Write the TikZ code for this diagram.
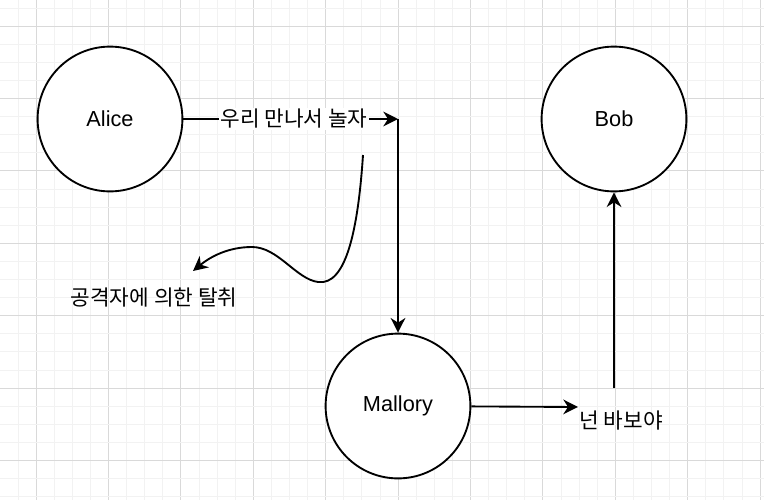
\documentclass[tikz,border=0pt]{standalone}
\usepackage{fontspec}
\setmainfont{Liberation Sans}
\newfontfamily\kor{Noto Sans CJK KR}
\usetikzlibrary{arrows.meta}

\begin{document}
\begin{tikzpicture}[x=0.75pt,y=-0.75pt,
	person/.style={draw,circle,line width=1.4pt,minimum size=108.6pt,inner sep=0pt,fill=white,font=\fontsize{16.3}{19}\selectfont},
	says/.style={font=\kor\fontsize{16}{19}\selectfont,inner sep=1pt},
	arr/.style={line width=1.4pt,-{Stealth[length=11pt,width=11pt,inset=3.5pt]}}]

	\useasboundingbox (0,0) rectangle (764,500);
	\fill[white] (0,0) rectangle (764,500);

% grid
	\foreach \k in {0,...,42} {
		\pgfmathsetmacro{\gx}{-0.2+18.1*\k}
		\pgfmathtruncatemacro{\gm}{mod(\k,4)}
		\ifnum\gm=2
			\draw[gray!30,line width=0.6pt] (\gx,0) -- (\gx,500);
		\else
			\draw[gray!10,line width=0.6pt] (\gx,0) -- (\gx,500);
		\fi
	}
	\foreach \k in {0,...,27} {
		\pgfmathsetmacro{\gy}{7.9+18.1*\k}
		\pgfmathtruncatemacro{\gm}{mod(\k,4)}
		\ifnum\gm=1
			\draw[gray!30,line width=0.6pt] (0,\gy) -- (764,\gy);
		\else
			\draw[gray!10,line width=0.6pt] (0,\gy) -- (764,\gy);
		\fi
	}

% people
	\node[person] (alice) at (110,119) {Alice};
	\node[person] (bob) at (614,119) {Bob};
	\node[person] (mallory) at (398,406) {Mallory};

	\coordinate (relay) at (398,119);
	\coordinate (tapS) at (363,155);
	\coordinate (tapE) at (193,271);
	\coordinate (foolIn) at (578,407);
	\coordinate (foolOut) at (614,388);

% messages
	\draw[arr] (alice) -- (relay);
	\node[says,fill=white] (meet) at (294,119) {우리 만나서 놀자};
	\draw[arr] (relay) -- (mallory);

	\draw[arr] (tapS) .. controls (358,230) and (346,286) .. (318,282)
		.. controls (296,279) and (278,247) .. (252,247)
		.. controls (228,247) and (210,257) .. (tapE);
	\node[says] (steal) at (154,298) {공격자에 의한 탈취};

	\draw[arr] (mallory) -- (foolIn);
	\node[says] (fool) at (621,421) {넌 바보야};
	\draw[arr] (foolOut) -- (bob);

\end{tikzpicture}
\end{document}
